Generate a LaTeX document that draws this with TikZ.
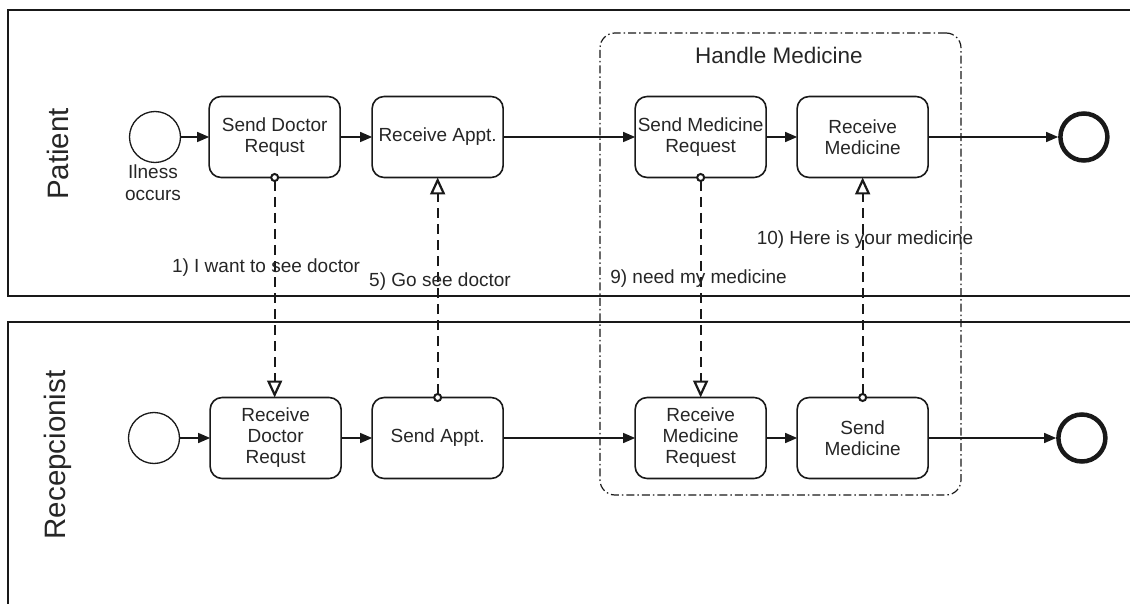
\documentclass[tikz,border=0pt]{standalone}
\usepackage{fontspec}
\setmainfont{Liberation Sans}
\usetikzlibrary{positioning,arrows.meta}
\tikzset{
  lane/.style={draw=black!90, line width=1.6pt},
  lane label/.style={rotate=90, font=\fontsize{29.5}{32}\selectfont, text=black!85},
  task/.style={draw=black!90, rounded corners=12pt, line width=1.6pt, minimum width=131pt, minimum height=81pt, inner sep=0pt, outer sep=0pt, align=center, font=\fontsize{19}{21}\selectfont, text=black!85},
  start event/.style={circle, draw=black!90, line width=1.3pt, minimum size=51pt, inner sep=0pt},
  end event/.style={circle, draw=black!90, line width=4.5pt, minimum size=47pt, inner sep=0pt},
  seq flow/.style={-{Triangle[length=12pt,width=10pt]}, draw=black!90, line width=1.4pt},
  msg flow/.style={{Circle[open,fill=white,length=9pt,width=9pt,line width=2pt]}-{Triangle[open,fill=white,length=17pt,width=15pt,line width=2.2pt]}, draw=black!90, dash pattern=on 10pt off 6pt, line width=1.9pt, shorten <=-4.5pt},
  msg label/.style={font=\fontsize{19}{22}\selectfont, text=black!85, inner sep=0pt},
  group/.style={draw=black!90, rounded corners=15pt, line width=1.2pt, inner sep=0pt, dash pattern=on 8pt off 3pt on 1.5pt off 3pt},
}

\begin{document}
\begin{tikzpicture}[x=1pt,y=-1pt]
\useasboundingbox (0,0) rectangle (1130,604);
% lanes
\draw[lane] (1132,10) -- (8,10) -- (8,296) -- (1132,296);
\draw[lane] (1132,322) -- (8,322) -- (8,606);
\node[lane label] (lanePatient) at (58,154) {Patient};
\node[lane label] (laneRecep) at (58,455) {Recepcionist};
% group
\node[group, minimum width=361pt, minimum height=462pt] (grpMed) at (780.5,264) {};
\node[font=\fontsize{22.5}{25}\selectfont, text=black!85] (grpTitle) at (779,55) {Handle Medicine};
% patient nodes
\node[start event] (stP) at (155,137) {};
\node[msg label, align=center] (stPlabel) at (153,183) {Ilness\\occurs};
\node[task, right=28pt of stP] (sdr) {Send Doctor\\Requst};
\node[task, right=32pt of sdr] (ra) {Receive Appt.};
\node[task, right=132pt of ra] (smr) {Send Medicine\\Request};
\node[task, right=31pt of smr] (rm) {Receive\\Medicine};
\node[end event, right=130pt of rm] (endP) {};
% recepcionist nodes
\node[start event] (stR) at (154,438) {};
\node[task, right=30pt of stR] (rdr) {Receive\\Doctor\\Requst};
\node[task, right=31pt of rdr] (sa) {Send Appt.};
\node[task, right=132pt of sa] (rmr) {Receive\\Medicine\\Request};
\node[task, right=31pt of rmr] (sm) {Send\\Medicine};
\node[end event, right=128pt of sm] (endR) {};
% sequence flows
\draw[seq flow] (stP.east) -- (sdr.west);
\draw[seq flow] (sdr.east) -- (ra.west);
\draw[seq flow] (ra.east) -- (smr.west);
\draw[seq flow] (smr.east) -- (rm.west);
\draw[seq flow] (rm.east) -- (endP.west);
\draw[seq flow] (stR.east) -- (rdr.west);
\draw[seq flow] (rdr.east) -- (sa.west);
\draw[seq flow] (sa.east) -- (rmr.west);
\draw[seq flow] (rmr.east) -- (sm.west);
\draw[seq flow] (sm.east) -- (endR.west);
% message flows
\draw[msg flow] (sdr.south) -- (sdr.south |- rdr.north);
\draw[msg flow] (sa.north) -- (sa.north |- ra.south);
\draw[msg flow] (smr.south) -- (smr.south |- rmr.north);
\draw[msg flow] (sm.north) -- (sm.north |- rm.south);
\node[msg label] (msg1) at (266,268) {1) I want to see doctor};
\node[msg label] (msg5) at (440,282) {5) Go see doctor};
\node[msg label] (msg9) at (698.5,279) {9) need my medicine};
\node[msg label] (msg10) at (865,240) {10) Here is your medicine};
\end{tikzpicture}
\end{document}
